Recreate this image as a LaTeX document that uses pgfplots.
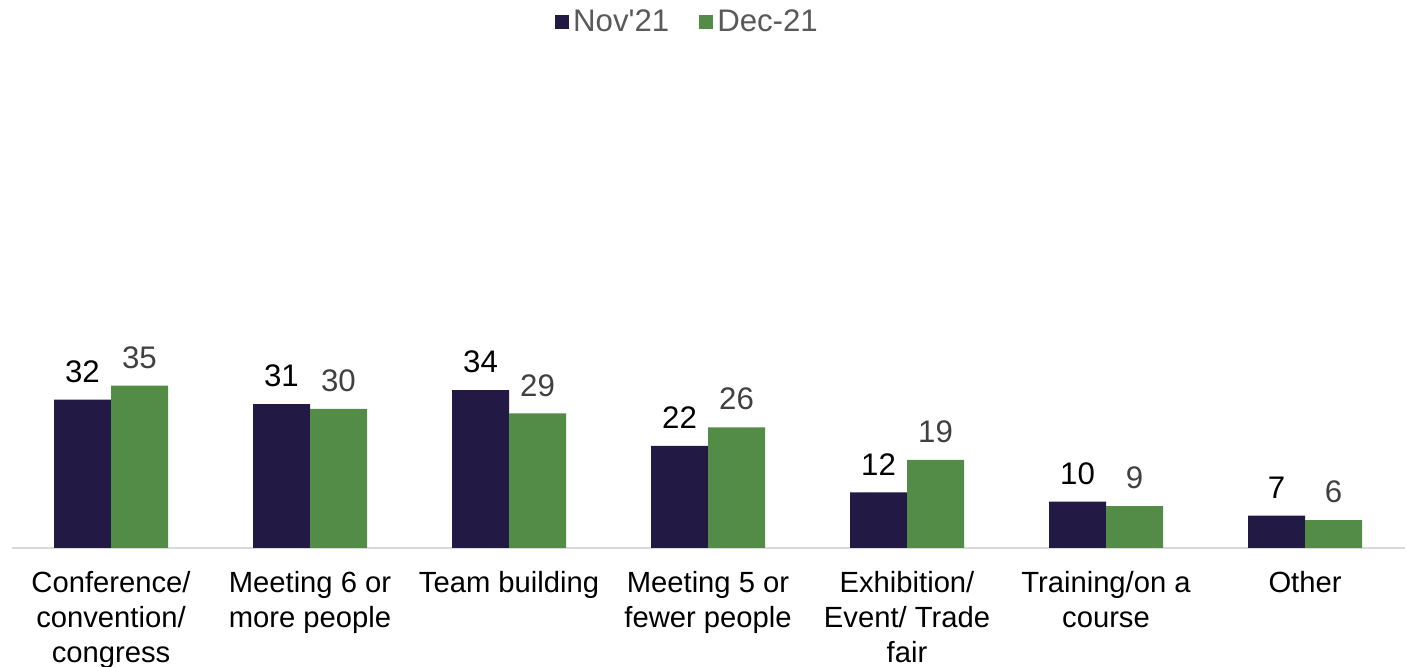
\documentclass[border=0pt]{standalone}
\usepackage{fontspec}
\setmainfont{Liberation Sans}
\usepackage{pgfplots}
\pgfplotsset{compat=1.18}
\definecolor{navy}{HTML}{221A45}
\definecolor{grn}{HTML}{538C46}
\definecolor{lbl}{HTML}{404040}
\definecolor{leg}{HTML}{595959}
\definecolor{axl}{HTML}{D9D9D9}
\begin{document}
\begin{tikzpicture}
\begin{axis}[
  scale only axis,
  width=696.5pt, height=232pt,
  xmin=-0.5, xmax=6.5, ymin=0, ymax=100,
  hide y axis,
  axis x line=bottom,
  x axis line style={draw=axl, line width=1pt, -},
  xtick={0,...,6},
  major tick length=0pt,
  xticklabels={{Conference/\\convention/\\congress},{Meeting 6 or\\more people},{Team building},{Meeting 5 or\\fewer people},{Exhibition/\\Event/ Trade\\fair},{Training/on a\\course},{Other}},
  xticklabel style={align=center, font=\fontsize{14.6}{17.5}\selectfont, text=black, yshift=-8pt},
  /pgf/number format/assume math mode=true,
  ybar, bar width=28.5pt,
  nodes near coords,
  every node near coord/.append style={font=\fontsize{15.6}{18}\selectfont, yshift=5pt},
  legend style={at={(0.486,1.134)}, anchor=center, draw=none, font=\fontsize{15.6}{18}\selectfont, text=leg, legend columns=2, /tikz/every even column/.append style={column sep=13pt}},
  legend image code/.code={\fill[#1] (0pt,-3.5pt) rectangle (7pt,3.5pt);},
  clip=false,
]
\addplot[fill=navy, draw=none, bar shift=-14.25pt, every node near coord/.append style={text=black}] coordinates {(0,32) (1,31) (2,34) (3,22) (4,12) (5,10) (6,7)};
\addplot[fill=grn, draw=none, bar shift=14.25pt, every node near coord/.append style={text=lbl}] coordinates {(0,35) (1,30) (2,29) (3,26) (4,19) (5,9) (6,6)};
\legend{Nov\textquotesingle 21, Dec-21}
\end{axis}
\pgfresetboundingbox
\path[use as bounding box] (-5.75pt,-59.5pt) rectangle (697.75pt,274pt);
\end{tikzpicture}
\end{document}
